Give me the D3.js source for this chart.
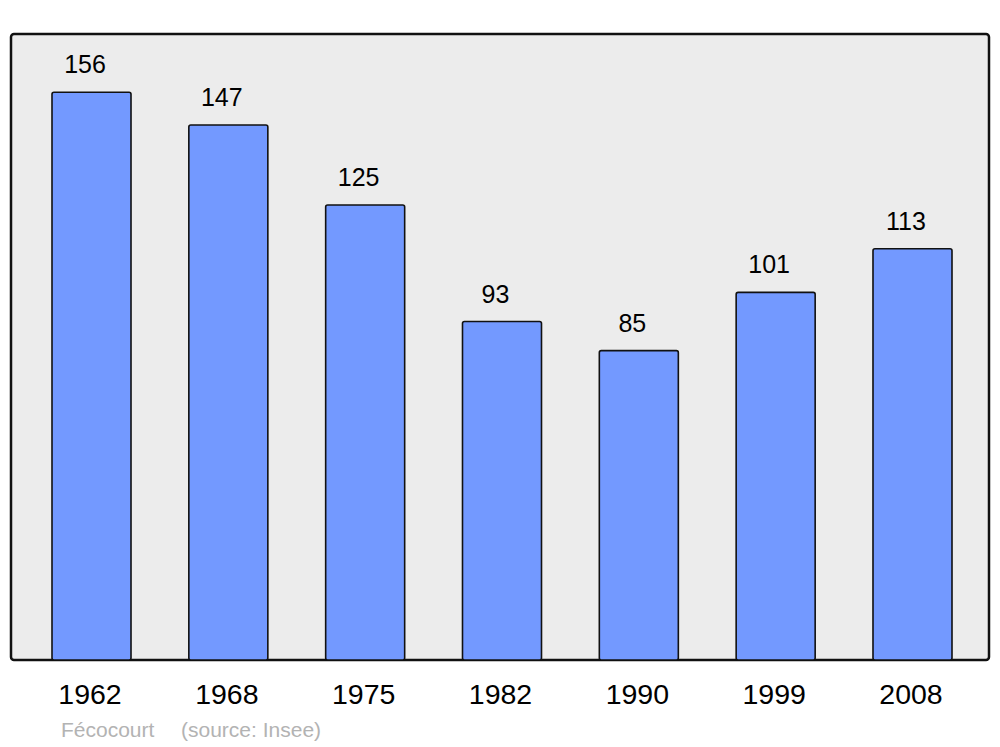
<!DOCTYPE html>
<html><head><meta charset="utf-8">
<script src="https://cdn.jsdelivr.net/npm/d3@7"></script>
<style>body{margin:0;background:#fff}svg{display:block}</style>
</head><body>
<script>
const years = ["1962","1968","1975","1982","1990","1999","2008"];
const population = [156,147,125,93,85,101,113];
const commune = "Fécocourt";
const source = "(source: Insee)";

const W = 1000, H = 747;
const svg = d3.select("body").append("svg").attr("width", W).attr("height", H);
const font = "Liberation Sans, Arial, sans-serif";

const x = d3.scaleBand().domain(years).range([52, 952]).paddingInner(0.4226).paddingOuter(0);
const y = d3.scaleLinear().domain([0, 172]).range([660, 34]);

svg.append("rect").attr("x", 11).attr("y", 34).attr("width", 978).attr("height", 626)
  .attr("rx", 3).attr("fill", "#ececec").attr("stroke", "#111").attr("stroke-width", 2.5);

svg.selectAll("rect.bar").data(population).join("rect").attr("class","bar")
  .attr("x", (d,i) => x(years[i]))
  .attr("y", d => y(d))
  .attr("width", x.bandwidth())
  .attr("height", d => y(0) - y(d))
  .attr("rx", 2)
  .attr("fill", "#7399ff").attr("stroke", "#111").attr("stroke-width", 1.6);

svg.selectAll("text.val").data(population).join("text").attr("class","val")
  .attr("x", (d,i) => x(years[i]) + x.bandwidth()/2 - 6.5)
  .attr("y", d => y(d) - 19)
  .attr("text-anchor", "middle").attr("font-family", font).attr("font-size", 25)
  .attr("fill", "#000").text(d => d);

svg.selectAll("text.yr").data(years).join("text").attr("class","yr")
  .attr("x", d => x(d) + x.bandwidth()/2 - 1.5)
  .attr("y", 704)
  .attr("text-anchor", "middle").attr("font-family", font).attr("font-size", 28.5)
  .attr("fill", "#000").text(d => d);

svg.append("text").attr("x", 61).attr("y", 737).attr("font-family", font).attr("font-size", 21)
  .attr("fill", "#b3b3b3").text(commune);
svg.append("text").attr("x", 181).attr("y", 737).attr("font-family", font).attr("font-size", 21)
  .attr("fill", "#b3b3b3").text(source);
</script>
</body></html>
